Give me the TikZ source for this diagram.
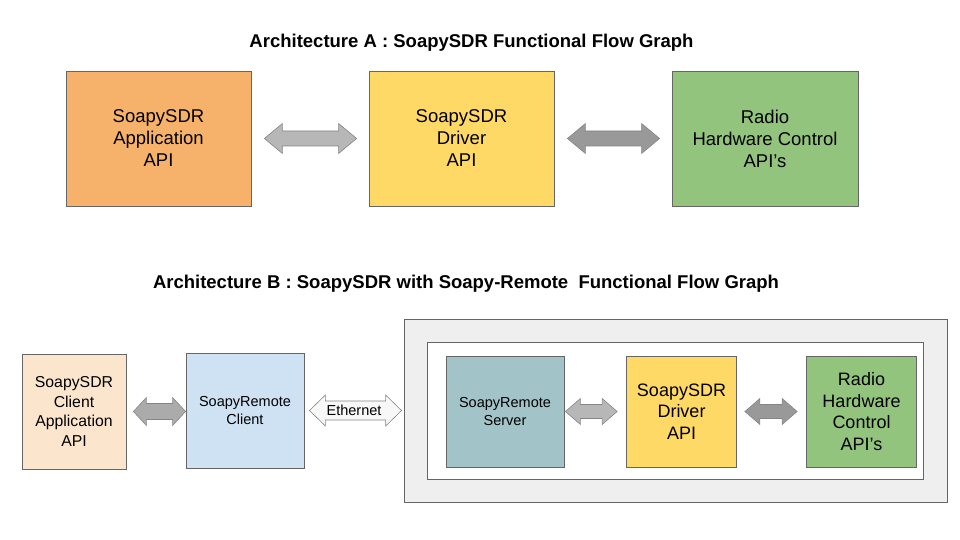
\documentclass[tikz,border=0pt]{standalone}
\usepackage{fontspec}
\setmainfont{Liberation Sans}
\usetikzlibrary{calc}
\definecolor{cOrange}{HTML}{F6B26B}
\definecolor{cYellow}{HTML}{FFD966}
\definecolor{cGreen}{HTML}{93C47D}
\definecolor{cPeach}{HTML}{FCE5CD}
\definecolor{cBlue}{HTML}{CFE2F3}
\definecolor{cTeal}{HTML}{A2C4C9}
\definecolor{cPanel}{HTML}{EFEFEF}
\definecolor{cBorder}{HTML}{666666}
\definecolor{cArrLight}{HTML}{B7B7B7}
\definecolor{cArrMid}{HTML}{ABABAB}
\definecolor{cArrDark}{HTML}{999999}
\definecolor{cEth}{HTML}{F8F8F8}
\newcommand{\dblarr}[6]{%
  \draw[#1] let \p1=#2, \p2=#3 in
  (\x1,\y1) -- (\x1+#6,\y1+#4) -- (\x1+#6,\y1+#5) -- (\x2-#6,\y1+#5) -- (\x2-#6,\y1+#4)
  -- (\x2,\y1) -- (\x2-#6,\y1-#4) -- (\x2-#6,\y1-#5) -- (\x1+#6,\y1-#5) -- (\x1+#6,\y1-#4) -- cycle;}
\tikzset{
  box/.style={draw=cBorder, line width=0.8pt, inner sep=0pt, align=center, text=black},
  bigtxt/.style={font=\fontsize{18.5}{22}\selectfont},
  midtxt/.style={font=\fontsize{18}{21.7}\selectfont},
  clienttxt/.style={font=\fontsize{15.8}{19.5}\selectfont},
  smalltxt/.style={font=\fontsize{14.5}{17.3}\selectfont},
  ttl/.style={font=\bfseries\fontsize{18.5}{21}\selectfont, anchor=base, inner sep=0pt},
  arr/.style={draw=cBorder!80!white, line width=0.6pt, line join=miter},
}
\begin{document}
\begin{tikzpicture}[x=1pt,y=-1pt]
\useasboundingbox (0,0) rectangle (960,540);
% titles
\node[ttl] (tA) at (471.5,48) {Architecture A : SoapySDR Functional Flow Graph};
\node[ttl] (tB) at (466,288) {Architecture B : SoapySDR with Soapy-Remote\ \ Functional Flow Graph};
% Architecture A
\node[box, bigtxt, fill=cOrange, minimum width=185pt, minimum height=135pt] (a1) at (158.5,138.5) {SoapySDR\\Application\\API};
\node[box, bigtxt, fill=cYellow, minimum width=185pt, minimum height=135pt] (a2) at (461.5,138.5) {SoapySDR\\Driver\\API};
\node[box, bigtxt, fill=cGreen, minimum width=186pt, minimum height=135pt] (a3) at (765,138.5) {Radio\\Hardware Control\\API’s};
\dblarr{arr, fill=cArrLight}{($(a1.east)+(13,0)$)}{($(a2.west)+(-12,0)$)}{15pt}{7.5pt}{18pt}
\dblarr{arr, fill=cArrDark}{($(a2.east)+(13,0)$)}{($(a3.west)+(-12,0)$)}{15pt}{7.5pt}{18pt}
% Architecture B
\node[draw=cBorder, line width=0.8pt, fill=cPanel, minimum width=543pt, minimum height=183pt, inner sep=0pt] (outer) at (675.5,410.5) {};
\node[draw=cBorder, line width=0.8pt, fill=white, minimum width=496pt, minimum height=137pt, inner sep=0pt] (inner) at (675,410.5) {};
\node[box, clienttxt, fill=cPeach, minimum width=104pt, minimum height=115pt] (b1) at (74,411.5) {SoapySDR\\Client\\Application\\API};
\node[box, smalltxt, fill=cBlue, minimum width=118pt, minimum height=115pt] (b2) at (245,410.5) {SoapyRemote\\Client};
\node[box, smalltxt, fill=cTeal, minimum width=118pt, minimum height=111pt] (srv) at (505,411.5) {SoapyRemote\\Server};
\node[box, midtxt, fill=cYellow, minimum width=110pt, minimum height=111pt] (drv) at (681.5,411.5) {SoapySDR\\Driver\\API};
\node[box, midtxt, fill=cGreen, minimum width=110pt, minimum height=111pt] (rad) at (861.5,411.5) {Radio\\Hardware\\Control\\API’s};
\dblarr{arr, fill=cArrMid}{($(b1.east)+(7,0)$)}{($(b2.west)+(0,0)$)}{14pt}{8pt}{13pt}
\dblarr{arr, fill=cEth}{($(b2.east)+(5,0)$)}{($(outer.west)+(-2,0)$)}{15.5pt}{9.5pt}{16pt}
\node[font=\fontsize{14.5}{17}\selectfont, inner sep=0pt] (eth) at ($(b2.east)!0.5!(outer.west)+(0,0)$) {Ethernet};
\dblarr{arr, fill=cArrLight}{($(srv.east)+(1,0)$)}{($(drv.west)+(-9,0)$)}{13pt}{7pt}{15pt}
\dblarr{arr, fill=cArrDark}{($(drv.east)+(8,0)$)}{($(rad.west)+(-9,0)$)}{13pt}{7pt}{15pt}
\end{tikzpicture}
\end{document}
